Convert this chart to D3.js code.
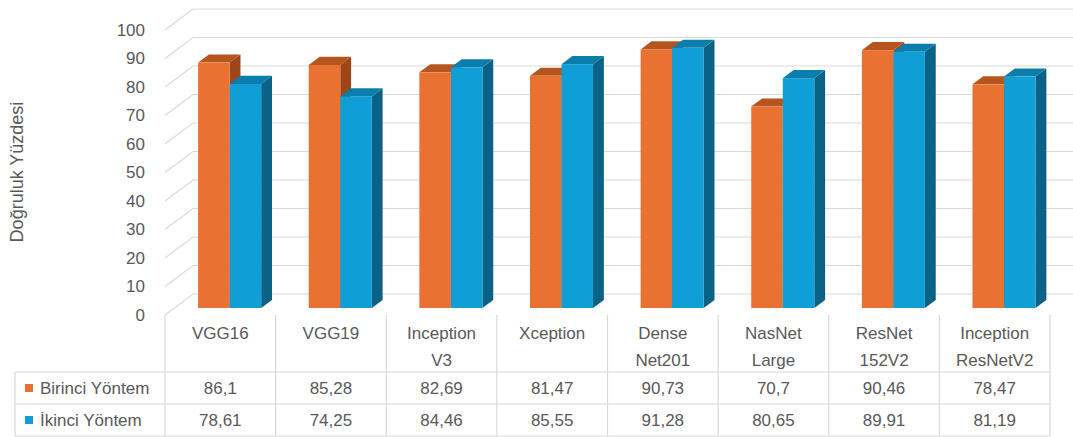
<!DOCTYPE html>
<html>
<head>
<meta charset="utf-8">
<script src="https://cdn.jsdelivr.net/npm/d3@7/dist/d3.min.js"></script>
<style>
  html, body { margin: 0; padding: 0; background: #fff; }
  svg { display: block; }
  text { font-family: "Liberation Sans", Arial, sans-serif; fill: #595959; }
</style>
</head>
<body>
<svg id="chart" width="1073" height="437"></svg>
<script>
// Model names (each entry split into the lines shown in the table header)
const categories = [
  ["VGG16"], ["VGG19"], ["Inception", "V3"], ["Xception"],
  ["Dense", "Net201"], ["NasNet", "Large"], ["ResNet", "152V2"], ["Inception", "ResNetV2"]
];
const seriesNames = ["Birinci Yöntem", "İkinci Yöntem"];
const birinciValues = [86.1, 85.28, 82.69, 81.47, 90.73, 70.7, 90.46, 78.47];
const ikinciValues  = [78.61, 74.25, 84.46, 85.55, 91.28, 80.65, 89.91, 81.19];
const yTicks = [0, 10, 20, 30, 40, 50, 60, 70, 80, 90, 100];
const yTitle = "Doğruluk Yüzdesi";

const series = [birinciValues, ikinciValues];
const faceColors = [
  { front: "#E97132", top: "#B5561F", side: "#9E4618" },
  { front: "#0F9ED5", top: "#0C7EAB", side: "#0A6386" }
];

const svg = d3.select("#chart");

// Front plane of the 3D box
const left = 165, right = 1050;
const x = d3.scaleBand().domain(d3.range(categories.length)).range([left, right]);
const y = d3.scaleLinear().domain([0, 100]).range([315, 30]);

// Depth projection: full depth shifts right and up
const depthX = 28, depthY = -21;
const proj = (px, py, f) => [px + depthX * f, py + depthY * f];

// Side wall diagonals and back wall gridlines
const grid = svg.append("g").attr("stroke", "#D9D9D9").attr("stroke-width", 1.2).attr("fill", "none");
yTicks.forEach(t => {
  const yy = y(t);
  const [bx, by] = proj(left, yy, 1);
  grid.append("path").attr("d", `M${left},${yy}L${bx},${by}L${right + depthX},${by}`);
});

// Tick labels
svg.append("g").selectAll("text").data(yTicks).join("text")
  .attr("x", 145).attr("y", d => y(d)).attr("dy", "0.35em")
  .attr("text-anchor", "end").attr("font-size", 17)
  .text(d => d);

// Axis title
svg.append("text")
  .attr("transform", "translate(23,172) rotate(-90)")
  .attr("text-anchor", "middle").attr("font-size", 18)
  .text(yTitle);

// Bars: placed at a fixed depth slice of the box
const barF0 = 0.333, barF1 = 0.72;
const groupFrac = 0.57;
const sub = d3.scaleBand().domain(d3.range(series.length))
  .range([0, x.bandwidth() * groupFrac]);
const groupOffset = x.bandwidth() * (1 - groupFrac) / 2;

const bars = svg.append("g");
categories.forEach((c, i) => {
  series.forEach((vals, s) => {
    const v = vals[i];
    const x0 = x(i) + groupOffset + sub(s);
    const x1 = x0 + sub.bandwidth();
    const yTop = y(v), yBase = y(0);
    const [fx0, fyT] = proj(x0, yTop, barF0);
    const [fx1] = proj(x1, yTop, barF0);
    const [, fyB] = proj(x0, yBase, barF0);
    const [bx0, byT] = proj(x0, yTop, barF1);
    const [bx1, byB] = proj(x1, yBase, barF1);
    const col = faceColors[s];
    // side face
    bars.append("path").attr("fill", col.side)
      .attr("d", `M${fx1},${fyT}L${bx1},${byT}L${bx1},${byB}L${fx1},${fyB}Z`);
    // top face
    bars.append("path").attr("fill", col.top)
      .attr("d", `M${fx0},${fyT}L${fx1},${fyT}L${bx1},${byT}L${bx0},${byT}Z`);
    // front face
    bars.append("rect").attr("fill", col.front)
      .attr("x", fx0).attr("y", fyT).attr("width", fx1 - fx0).attr("height", fyB - fyT);
  });
});

// Data table below the plot
const rowTop = [372, 404, 436];
const tableLeft = 15;
const table = svg.append("g").attr("stroke", "#D9D9D9").attr("stroke-width", 1.2);
x.domain().concat([categories.length]).forEach(i => {
  const xx = i === categories.length ? right : x(i);
  table.append("line").attr("x1", xx).attr("x2", xx).attr("y1", 315).attr("y2", 436);
});
rowTop.forEach(yy => {
  table.append("line").attr("x1", tableLeft).attr("x2", right).attr("y1", yy).attr("y2", yy);
});
table.append("line").attr("x1", tableLeft).attr("x2", tableLeft).attr("y1", 372).attr("y2", 436);

// Category header
const header = svg.append("g");
categories.forEach((lines, i) => {
  const cx = x(i) + x.bandwidth() / 2;
  lines.forEach((ln, k) => {
    header.append("text").attr("x", cx).attr("y", 333 + k * 27).attr("dy", "0.35em")
      .attr("text-anchor", "middle").attr("font-size", 17).text(ln);
  });
});

// Value rows with legend keys
const fmt = v => String(v).replace(".", ",");
const rowCenter = [388, 420];
series.forEach((vals, s) => {
  const g = svg.append("g");
  g.append("rect").attr("x", 25).attr("y", rowCenter[s] - 4).attr("width", 8).attr("height", 8)
    .attr("fill", faceColors[s].front);
  g.append("text").attr("x", 40).attr("y", rowCenter[s]).attr("dy", "0.35em")
    .attr("font-size", 17).text(seriesNames[s]);
  vals.forEach((v, i) => {
    g.append("text").attr("x", x(i) + x.bandwidth() / 2).attr("y", rowCenter[s]).attr("dy", "0.35em")
      .attr("text-anchor", "middle").attr("font-size", 17).text(fmt(v));
  });
});
</script>
</body>
</html>
